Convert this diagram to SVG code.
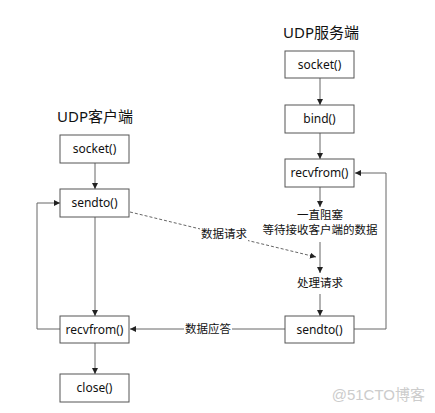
<svg xmlns="http://www.w3.org/2000/svg" width="435" height="413" viewBox="0 0 435 413">
<defs>
<marker id="ah" viewBox="0 0 6 6" refX="6" refY="3" markerWidth="6" markerHeight="6" markerUnits="userSpaceOnUse" orient="auto">
<path d="M0,0 L6,3 L0,6 z" fill="#222"/>
</marker>
<style>
.box{fill:#fff;stroke:#555;stroke-width:1}
.t{font-family:"Noto Sans","Noto Sans CJK SC",sans-serif;font-size:12px;fill:#111;text-anchor:middle}
.title{font-family:"Noto Sans","Noto Sans CJK SC",sans-serif;font-size:15px;fill:#111}
.lbl{font-family:"Noto Sans CJK SC",sans-serif;font-size:11.5px;fill:#111;text-anchor:middle}
.ln{fill:none;stroke:#666;stroke-width:1}
.bg{fill:#fff}
</style>
</defs>
<rect width="435" height="413" fill="#fff"/>
<text class="title" x="283" y="38">UDP服务端</text>
<text class="title" x="57" y="122">UDP客户端</text>
<g id="connectors">
<line class="ln" x1="320" y1="78" x2="320" y2="105" marker-end="url(#ah)"/>
<line class="ln" x1="320" y1="133" x2="320" y2="159" marker-end="url(#ah)"/>
<line class="ln" x1="320" y1="187" x2="320" y2="207" marker-end="url(#ah)"/>
<line class="ln" x1="320" y1="242" x2="320" y2="273" marker-end="url(#ah)"/>
<line class="ln" x1="320" y1="294" x2="320" y2="316" marker-end="url(#ah)"/>
<polyline class="ln" points="354,329 386,329 386,173 355,173" marker-end="url(#ah)"/>
<line class="ln" x1="95" y1="163" x2="95" y2="189" marker-end="url(#ah)"/>
<line class="ln" x1="95" y1="217" x2="95" y2="316" marker-end="url(#ah)"/>
<line class="ln" x1="95" y1="343" x2="95" y2="374" marker-end="url(#ah)"/>
<polyline class="ln" points="60,329 37,329 37,203 60,203" marker-end="url(#ah)"/>
<line class="ln" x1="130" y1="212" x2="316" y2="257" stroke-dasharray="3,2" marker-end="url(#ah)"/>
<line class="ln" x1="285" y1="329" x2="130" y2="329" marker-end="url(#ah)"/>
<rect class="bg" x="200" y="226" width="48" height="16"/>
<text class="lbl" x="224" y="238">数据请求</text>
<rect class="bg" x="184" y="321" width="48" height="16"/>
<text class="lbl" x="208" y="333">数据应答</text>
</g>
<g id="srv-socket"><rect class="box" x="285" y="51" width="69" height="27"/><text class="t" x="319.5" y="69">socket()</text></g>
<g id="srv-bind"><rect class="box" x="285" y="105" width="69" height="28"/><text class="t" x="319.5" y="123">bind()</text></g>
<g id="srv-recvfrom"><rect class="box" x="285" y="159" width="69" height="28"/><text class="t" x="319.5" y="177">recvfrom()</text></g>
<g id="srv-wait"><text class="lbl" x="320" y="219" font-size="11">一直阻塞</text><text class="lbl" x="320" y="234" style="font-size:11.5px">等待接收客户端的数据</text></g>
<g id="srv-process"><text class="lbl" x="320" y="287">处理请求</text></g>
<g id="srv-sendto"><rect class="box" x="285" y="316" width="69" height="27"/><text class="t" x="319.5" y="334">sendto()</text></g>
<g id="cli-socket"><rect class="box" x="60" y="135" width="69" height="28"/><text class="t" x="94.5" y="153">socket()</text></g>
<g id="cli-sendto"><rect class="box" x="60" y="189" width="69" height="28"/><text class="t" x="94.5" y="207">sendto()</text></g>
<g id="cli-recvfrom"><rect class="box" x="60" y="316" width="69" height="27"/><text class="t" x="94.5" y="334">recvfrom()</text></g>
<g id="cli-close"><rect class="box" x="60" y="374" width="69" height="28"/><text class="t" x="94.5" y="392">close()</text></g>
<text x="425" y="400" font-family="'Liberation Sans','Noto Sans CJK SC',sans-serif" font-size="15" fill="#ccc" text-anchor="end">@51CTO博客</text>
</svg>
